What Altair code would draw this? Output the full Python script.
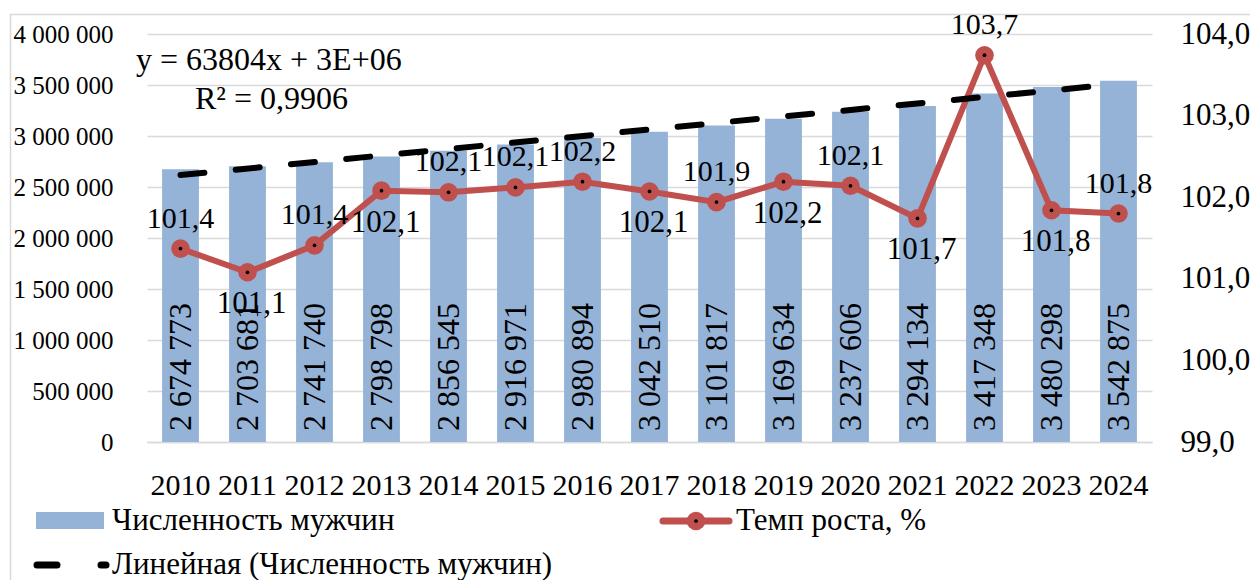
import altair as alt
import pandas as pd

# ---------------- data ----------------
years = list(range(2010, 2025))
men = [2674773, 2703681, 2741740, 2798798, 2856545, 2916971, 2980894, 3042510,
       3101817, 3169634, 3237606, 3294134, 3417348, 3480298, 3542875]
rate = [101.37, 101.08, 101.41, 102.08, 102.06, 102.12, 102.19, 102.07,
        101.94, 102.19, 102.14, 101.74, 103.74, 101.84, 101.80]
rate_label_above = [2010, 2012, 2014, 2015, 2016, 2018, 2020, 2022, 2024]
left_ticks = [0, 500000, 1000000, 1500000, 2000000, 2500000, 3000000, 3500000, 4000000]
right_ticks = [99, 100, 101, 102, 103, 104]

FONT = "Liberation Serif, Tinos, Times New Roman, DejaVu Serif, serif"
BAR = "#95B3D7"
RED = "#C0504D"
GRID = "#D9D9D9"
W, H = 1005, 408

df = pd.DataFrame({"year": years, "men": men, "rate": rate})
df["idx"] = list(range(1, len(years) + 1))
df["men_label"] = [f"{v:,}".replace(",", " ") for v in men]
df["rate_label"] = [f"{v:.1f}".replace(".", ",") for v in rate]
df["pos"] = ["above" if y in rate_label_above else "below" for y in years]
df["zero"] = 0

def xs():
    return alt.Scale(domain=years, paddingInner=0.45, paddingOuter=0.225)

yleft = alt.Scale(domain=[0, 4000000], nice=False)
yright = alt.Scale(domain=[99, 104], nice=False)

base = alt.Chart(df)

bars = base.mark_bar(color=BAR).encode(
    x=alt.X("year:O", scale=xs(), axis=alt.Axis(
        title=None, labelAngle=0, labelFont=FONT, labelFontSize=30, labelPadding=28,
        labelColor="black", ticks=False, domainColor=GRID, domainWidth=1.5,
        labelBaseline="top")),
    y=alt.Y("men:Q", scale=yleft, axis=alt.Axis(
        title=None, values=left_ticks,
        labelExpr="replace(replace(format(datum.value, ',d'), ',', ' '), ',', ' ')",
        grid=True, gridColor=GRID, gridWidth=1.5, ticks=False, domain=False,
        labelFont=FONT, labelFontSize=25, labelPadding=34, labelColor="black")),
)

bar_text = base.mark_text(angle=270, align="left", baseline="middle", dx=11,
                          font=FONT, fontSize=32, color="black").encode(
    x=alt.X("year:O", scale=xs(), axis=None),
    y=alt.Y("zero:Q", scale=yleft, axis=None),
    text="men_label:N",
)

trend = base.transform_regression("idx", "men", method="linear").mark_line(
    color="black", strokeWidth=6, strokeDash=[24, 31.5], strokeCap="round").encode(
    x=alt.X("idx:Q", scale=alt.Scale(domain=[0.5, 15.5], nice=False, zero=False), axis=None),
    y=alt.Y("men:Q", scale=yleft, axis=None),
)

rate_line = base.mark_line(color=RED, strokeWidth=6).encode(
    x=alt.X("year:O", scale=xs(), axis=None),
    y=alt.Y("rate:Q", scale=yright, axis=alt.Axis(
        orient="right", title=None, values=right_ticks,
        labelExpr="replace(format(datum.value, '.1f'), '.', ',')",
        grid=False, ticks=False, domain=False, labelFont=FONT, labelFontSize=31,
        labelPadding=28, labelColor="black")),
)

rate_pts = base.mark_circle(color=RED, opacity=1, size=346).encode(
    x=alt.X("year:O", scale=xs(), axis=None),
    y=alt.Y("rate:Q", scale=yright, axis=None),
)
rate_dots = base.mark_circle(color="black", opacity=1, size=14).encode(
    x=alt.X("year:O", scale=xs(), axis=None),
    y=alt.Y("rate:Q", scale=yright, axis=None),
)

lab_above = base.transform_filter("datum.pos == 'above'").mark_text(
    baseline="middle", dy=-30, font=FONT, fontSize=30, color="black").encode(
    x=alt.X("year:O", scale=xs(), axis=None),
    y=alt.Y("rate:Q", scale=yright, axis=None),
    text="rate_label:N",
)
lab_below = base.transform_filter("datum.pos == 'below'").mark_text(
    baseline="middle", dy=32, dx=4, font=FONT, fontSize=31, color="black").encode(
    x=alt.X("year:O", scale=xs(), axis=None),
    y=alt.Y("rate:Q", scale=yright, axis=None),
    text="rate_label:N",
)

one = alt.Chart(pd.DataFrame({"k": [0]}))

eq1 = one.mark_text(text="y = 63804x + 3E+06", align="left", baseline="middle",
                    font=FONT, fontSize=32, color="black").encode(
    x=alt.value(-11), y=alt.value(26))
eq2 = one.mark_text(text="R² = 0,9906", align="left", baseline="middle",
                    font=FONT, fontSize=32, color="black").encode(
    x=alt.value(48), y=alt.value(65))

frame = one.mark_rect(fillOpacity=0, stroke=GRID, strokeWidth=1.5).encode(
    x=alt.value(-136.5), x2=alt.value(1108), y=alt.value(-19.5), y2=alt.value(700))

leg_bar = one.mark_rect(color=BAR).encode(
    x=alt.value(-111), x2=alt.value(-43), y=alt.value(478), y2=alt.value(495))
leg_bar_t = one.mark_text(text="Численность мужчин", align="left", baseline="middle",
                          font=FONT, fontSize=31, color="black").encode(
    x=alt.value(-35), y=alt.value(487))
leg_line = one.mark_rule(color=RED, strokeWidth=7, strokeCap="round").encode(
    x=alt.value(516), x2=alt.value(582), y=alt.value(487))
leg_pt = one.mark_circle(color=RED, opacity=1, size=346).encode(
    x=alt.value(549), y=alt.value(487))
leg_dot = one.mark_circle(color="black", opacity=1, size=14).encode(
    x=alt.value(549), y=alt.value(487))
leg_line_t = one.mark_text(text="Темп роста, %", align="left", baseline="middle",
                           font=FONT, fontSize=31, color="black").encode(
    x=alt.value(589), y=alt.value(487))
leg_trend = one.mark_rule(color="black", strokeWidth=7, strokeCap="round",
                          strokeDash=[20, 44]).encode(
    x=alt.value(-110), x2=alt.value(-41), y=alt.value(531))
leg_trend_t = one.mark_text(text="Линейная (Численность мужчин)", align="left",
                            baseline="middle", font=FONT, fontSize=31,
                            color="black").encode(
    x=alt.value(-35), y=alt.value(531))

chart = alt.layer(
    frame, bars, bar_text, rate_line, trend, rate_pts, rate_dots, lab_above, lab_below,
    eq1, eq2, leg_bar, leg_bar_t, leg_line, leg_pt, leg_dot, leg_line_t,
    leg_trend, leg_trend_t,
).resolve_scale(x="independent", y="independent").properties(
    width=W, height=H,
    autosize=alt.AutoSizeParams(type="none"),
    padding={"left": 139, "top": 26, "right": 98, "bottom": 138},
    background="white",
).configure_view(stroke=None)

chart.save("out.html", embed_options={"renderer": "svg", "actions": False})
